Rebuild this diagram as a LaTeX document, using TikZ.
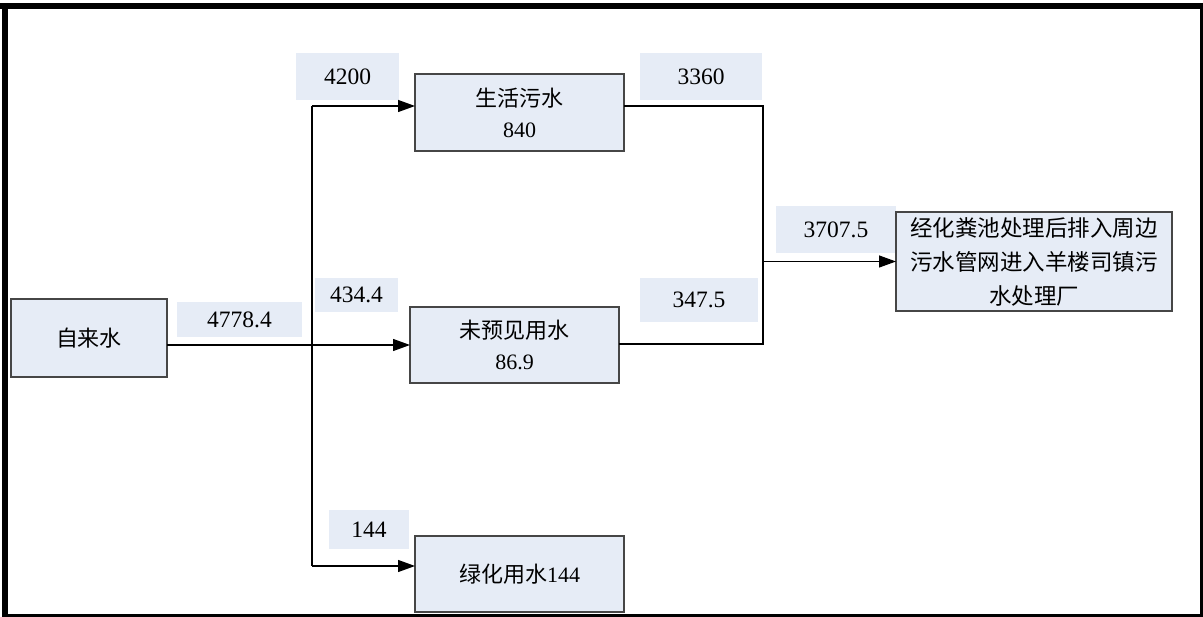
\documentclass[tikz,border=0pt]{standalone}
\usepackage{fontspec}
\setmainfont{Liberation Serif}
\newfontfamily\cjk{Noto Sans CJK SC}
\usepackage{color}
\usetikzlibrary{calc, positioning, arrows.meta}

\definecolor{boxblue}{RGB}{230,236,246}
\definecolor{boxline}{RGB}{70,70,70}
\tikzset{
	unitbox/.style={draw=boxline, line width=1.3pt, fill=boxblue, inner sep=0pt, outer sep=0pt, align=center, font=\fontsize{22}{31}\selectfont},
	flowlabel/.style={fill=boxblue, inner sep=0pt, outer sep=0pt, font=\fontsize{23.5}{27}\selectfont},
	pipe/.style={line width=1.3pt},
	flow/.style={pipe, -{Triangle[length=17pt,width=12pt]}}
}

\begin{document}
\begin{tikzpicture}[x=1pt, y=-1pt]
	\useasboundingbox (0,0) rectangle (1203,617);
	%frame
	\fill (0,3) rectangle (1203,9);
	\fill (2,3) rectangle (8,617);
	\fill (1200,3) rectangle (1203,617);
	\fill (2,614) rectangle (1203,617);
	
	%quantities on the pipes
	\node[flowlabel, minimum width=125pt, minimum height=35pt] (q_total) at (239.5,319.5) {4778.4};
	\node[flowlabel, minimum width=103pt, minimum height=47pt] (q_life) at (347.5,76.5) {4200};
	\node[flowlabel, minimum width=83pt, minimum height=34pt] (q_spare) at (356.5,295) {434.4};
	\node[flowlabel, minimum width=80pt, minimum height=39pt] (q_green) at (369,529.5) {144};
	\node[flowlabel, minimum width=122pt, minimum height=47pt] (q_lifeout) at (701,76.5) {3360};
	\node[flowlabel, minimum width=118pt, minimum height=44pt] (q_spareout) at (699,300) {347.5};
	\node[flowlabel, minimum width=120pt, minimum height=47pt] (q_sewer) at (836,229.5) {3707.5};
	
	%boxes
	\node[unitbox, minimum width=156pt, minimum height=78pt] (tap) at (89,338) {\cjk 自来水};
	\node[unitbox, minimum width=209pt, minimum height=77pt] (life) at (519.5,112.5) {{\cjk 生活污水}\\840};
	\node[unitbox, minimum width=209pt, minimum height=76pt] (spare) at (514.5,345) {{\cjk 未预见用水}\\86.9};
	\node[unitbox, minimum width=209pt, minimum height=76pt] (green) at (519.5,574) {{\cjk 绿化用水}144};
	\node[unitbox, minimum width=276pt, minimum height=99pt, font=\fontsize{22.5}{34}\selectfont\cjk] (plant) at (1034,261.5)
	{经化粪池处理后排入周边\\污水管网进入羊楼司镇污\\水处理厂};
	
	%pipes in
	\coordinate (trunk_top) at (312,106);
	\coordinate (trunk_bot) at (312,566);
	\draw[pipe] (trunk_top) -- (trunk_bot);
	\draw[flow] (trunk_top) -- (trunk_top -| life.west);
	\draw[flow] (trunk_bot) -- (trunk_bot -| green.west);
	\draw[flow] (spare.west -| tap.east) -- (spare.west);
	
	%pipes out
	\coordinate (join_top) at (763,106);
	\coordinate (join_bot) at (763,344);
	\draw[pipe] (join_top -| life.east) -- (join_top) -- (join_bot) -- (join_bot -| spare.east);
	\draw[flow] (plant.west -| join_top) -- (plant.west);
\end{tikzpicture}
\end{document}
